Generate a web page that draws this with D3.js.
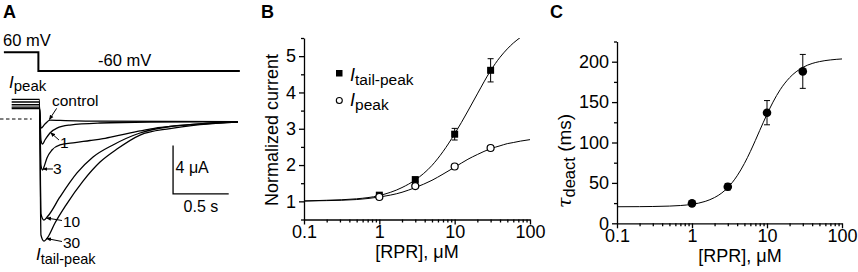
<!DOCTYPE html>
<html>
<head>
<meta charset="utf-8">
<script src="https://cdn.jsdelivr.net/npm/d3@7"></script>
<style>
  body { margin: 0; background: #fff; }
  svg { display: block; font-family: "Liberation Sans", Arial, sans-serif; }
  .axis path, .axis line { stroke: #000; stroke-width: 1.3; }
</style>
</head>
<body>
<svg id="fig" width="858" height="272"></svg>
<script>
// ---------- data ----------
// panel A: voltage protocol (s, mV)
const voltTime = [-0.32, -0.01, -0.01, 1.8]
const voltLevel = [60, 60, -60, -60]

// panel A: current traces, [time s, current uA]
const traceControl = [[-0.25, 0.87], [0, 0.87], [0.013, -0.75], [0.049, -0.42], [0.094, -0.1], [0.184, -0.12], [0.544, -0.18], [1.783, -0.21]]
const trace1 = [[-0.25, 0.99], [0, 0.99], [0.013, -1.74], [0.027, -2.07], [0.049, -1.74], [0.094, -1.16], [0.157, -0.75], [0.274, -0.5], [0.544, -0.33], [0.993, -0.25], [1.783, -0.22]]
const trace3 = [[-0.25, 1.18], [0, 1.18], [0.013, -3.81], [0.027, -4.23], [0.040, -3.98], [0.067, -3.23], [0.112, -2.57], [0.184, -2.15], [0.319, -1.95], [0.454, -1.78], [0.571, -1.62], [0.723, -1.33], [0.903, -0.99], [1.020, -0.79], [1.325, -0.50], [1.622, -0.29], [1.783, -0.25]]
const trace10 = [[-0.25, 1.41], [0, 1.41], [0.013, -7.87], [0.040, -8.37], [0.076, -8.04], [0.184, -6.46], [0.337, -4.47], [0.481, -3.15], [0.660, -2.15], [0.903, -1.16], [1.173, -0.62], [1.442, -0.41], [1.783, -0.25]]
const trace30 = [[-0.25, 1.63], [0, 1.63], [0.013, -9.61], [0.040, -10.11], [0.076, -9.78], [0.139, -8.62], [0.238, -7.13], [0.391, -5.14], [0.544, -3.56], [0.696, -2.49], [0.903, -1.33], [1.173, -0.79], [1.442, -0.46], [1.783, -0.25]]
const traces = [traceControl, trace1, trace3, trace10, trace30]

// panel B: normalized current vs [RPR]
const conc = [1, 3, 10, 30]
const tailPeak = [1.17, 1.6, 2.85, 4.61]
const tailPeakErr = [0.04, 0.05, 0.16, 0.32]
const peak = [1.12, 1.42, 1.96, 2.47]
const peakErr = [0.03, 0.03, 0.04, 0.06]
const fitConcB = [0.1, 0.2, 0.5, 1, 2, 3, 5, 7, 10, 15, 20, 30, 40, 50, 60, 75, 100]
const tailPeakFit = [1.01, 1.03, 1.07, 1.16, 1.38, 1.59, 1.99, 2.37, 2.86, 3.49, 3.96, 4.6, 4.97, 5.2, 5.36, 5.52, 5.72]
const peakFit = [1.01, 1.02, 1.05, 1.12, 1.25, 1.38, 1.58, 1.75, 1.94, 2.16, 2.29, 2.45, 2.53, 2.59, 2.62, 2.66, 2.70]

// panel C: deactivation time constant vs [RPR]
const tau = [24.7, 45.3, 136.9, 188]
const tauErr = [2, 4, 15, 21]
const fitConcC = [0.1, 0.2, 0.3, 0.5, 0.7, 1, 1.5, 2, 2.5, 3, 4, 5, 6, 7, 8, 10, 12, 15, 20, 30, 40, 50, 70, 100]
const tauFit = [20.5, 20.6, 20.8, 21.3, 22.0, 23.5, 27.1, 31.9, 37.6, 44.2, 58.8, 74.1, 88.9, 102.6, 114.9, 134.9, 149.9, 165.4, 180.2, 192.9, 197.8, 200.1, 202.2, 203.4]

// axis ticks
const xMajor = [0.1, 1, 10, 100]
const xMinor = [0.2, 0.3, 0.4, 0.5, 0.6, 0.7, 0.8, 0.9, 2, 3, 4, 5, 6, 7, 8, 9, 20, 30, 40, 50, 60, 70, 80, 90]
const yMajorB = [1, 2, 3, 4, 5]
const yMinorB = [0.5, 1.5, 2.5, 3.5, 4.5, 5.5]
const yMajorC = [0, 50, 100, 150, 200]
const yMinorC = [25, 75, 125, 175, 225]

const svg = d3.select("#fig")
svg.append("rect").attr("width", 858).attr("height", 272).attr("fill", "#fff")
const defs = svg.append("defs")

// panel letters
const letters = [["A", 3], ["B", 261], ["C", 550]]
svg.selectAll("text.letter").data(letters).enter()
  .append("text").attr("class", "letter")
  .attr("x", d => d[1]).attr("y", 18)
  .attr("font-size", 18).attr("font-weight", "bold")
  .text(d => d[0])

// ---------- panel A ----------
const xA = d3.scaleLinear().domain([0, 1]).range([39.5, 150.8])
const yA = d3.scaleLinear().domain([0, 4]).range([119, 70.72])
const yV = d3.scaleLinear().domain([-60, 60]).range([71, 52.3])

const gA = svg.append("g")

gA.append("path")
  .attr("d", d3.line().x(d => xA(d)).y((d, i) => yV(voltLevel[i]))(voltTime))
  .attr("fill", "none").attr("stroke", "#000").attr("stroke-width", 2)

gA.append("text").attr("x", 3).attr("y", 46).attr("font-size", 16.5).text("60 mV")
gA.append("text").attr("x", 98).attr("y", 66).attr("font-size", 16.5).text("-60 mV")

// zero-current dashed line
gA.append("path")
  .attr("d", d3.line().x(d => xA(d[0])).y(d => yA(d[1]))([[-0.355, 0], [-0.07, 0]]))
  .attr("stroke", "#000").attr("stroke-width", 1).attr("stroke-dasharray", "3.5,2.5")

const traceLine = d3.line().x(d => xA(d[0])).y(d => yA(d[1])).curve(d3.curveMonotoneX)
gA.selectAll("path.trace").data(traces).enter()
  .append("path").attr("class", "trace")
  .attr("d", traceLine)
  .attr("fill", "none").attr("stroke", "#000").attr("stroke-width", 1.3)

// arrow marker
defs.append("marker")
  .attr("id", "arr").attr("viewBox", "0 0 10 10").attr("refX", 9).attr("refY", 5)
  .attr("markerWidth", 5).attr("markerHeight", 5).attr("orient", "auto")
  .append("path").attr("d", "M0,1 L10,5 L0,9 Z").attr("fill", "#000")

// trace annotations: [label, text t, text I, arrow from t, I, arrow to t, I]
const notes = [
  ["control", 0.112, 1.08, 0.154, 0.88, 0.088, -0.05],
  ["1", 0.184, -2.40, 0.175, -1.74, 0.099, -1.12],
  ["3", 0.121, -4.58, 0.121, -4.14, 0.031, -4.14],
  ["10", 0.211, -8.92, 0.202, -8.41, 0.063, -8.2],
  ["30", 0.211, -10.66, 0.202, -10.15, 0.063, -9.9]
]
gA.selectAll("line.note").data(notes).enter()
  .append("line").attr("class", "note")
  .attr("x1", d => xA(d[3])).attr("y1", d => yA(d[4]))
  .attr("x2", d => xA(d[5])).attr("y2", d => yA(d[6]))
  .attr("stroke", "#000").attr("stroke-width", 1).attr("marker-end", "url(#arr)")
gA.selectAll("text.note").data(notes).enter()
  .append("text").attr("class", "note")
  .attr("x", d => xA(d[1])).attr("y", d => yA(d[2]))
  .attr("font-size", 15.5).text(d => d[0])

// I_peak and I_tail-peak labels
const ip = gA.append("text").attr("x", 9).attr("y", 88).attr("font-size", 17)
ip.append("tspan").attr("font-style", "italic").text("I")
ip.append("tspan").attr("dy", 3).attr("font-size", 15).text("peak")
const itp = gA.append("text").attr("x", 36).attr("y", 260).attr("font-size", 17)
itp.append("tspan").attr("font-style", "italic").text("I")
itp.append("tspan").attr("dy", 4).attr("font-size", 14.5).text("tail-peak")

// scale bars: 4 uA, 0.5 s
gA.append("path")
  .attr("d", d3.line().x(d => xA(d[0])).y(d => yA(d[1]))([[1.2, -2.2], [1.2, -6.2], [1.7, -6.2]]))
  .attr("fill", "none").attr("stroke", "#000").attr("stroke-width", 1.3)
gA.append("text").attr("x", xA(1.2) + 2.5).attr("y", 173).attr("font-size", 16).text("4 μA")
gA.append("text").attr("x", xA(1.45)).attr("y", 212).attr("text-anchor", "middle").attr("font-size", 16).text("0.5 s")

// ---------- shared axis helpers ----------
function xAxis(g, x, y0) {
  g.append("g").attr("class", "axis").attr("transform", `translate(0,${y0})`)
    .call(d3.axisBottom(x).tickValues(xMajor).tickFormat(d => d).tickSize(5).tickPadding(1).tickSizeOuter(0))
    .attr("font-size", 18).attr("font-family", null)
  g.append("g").attr("class", "axis").attr("transform", `translate(0,${y0})`)
    .call(d3.axisBottom(x).tickValues(xMinor).tickFormat("").tickSize(3))
    .call(a => a.select(".domain").remove())
}
function yAxis(g, y, x0, major, minor) {
  g.append("g").attr("class", "axis").attr("transform", `translate(${x0},0)`)
    .call(d3.axisLeft(y).tickValues(major).tickFormat(d3.format("d")).tickSize(5).tickPadding(3).tickSizeOuter(0))
    .attr("font-size", 18).attr("font-family", null)
  g.append("g").attr("class", "axis").attr("transform", `translate(${x0},0)`)
    .call(d3.axisLeft(y).tickValues(minor).tickFormat("").tickSize(3))
    .call(a => a.select(".domain").remove())
}
function errorBars(g, x, y, xs, vs, es) {
  const d = xs.map((c, i) => [c, vs[i], es[i]])
  g.selectAll(null).data(d).enter().append("path")
    .attr("d", p => `M${x(p[0])},${y(p[1] - p[2])}V${y(p[1] + p[2])}` +
      `M${x(p[0]) - 3},${y(p[1] - p[2])}h6M${x(p[0]) - 3},${y(p[1] + p[2])}h6`)
    .attr("stroke", "#000").attr("stroke-width", 1).attr("fill", "none")
}

// ---------- panel B ----------
const xB = d3.scaleLog().domain([0.1, 100]).range([304, 530])
const yB = d3.scaleLinear().domain([0.5, 5.5]).range([219.5, 38])
const gB = svg.append("g")

defs.append("clipPath").attr("id", "clipB")
  .append("rect").attr("x", xB(0.1)).attr("y", yB(5.5)).attr("width", xB(100) - xB(0.1)).attr("height", yB(0.5) - yB(5.5))

const fitLineB = d3.line().x((d, i) => xB(fitConcB[i])).y(d => yB(d)).curve(d3.curveMonotoneX)
gB.selectAll("path.fit").data([tailPeakFit, peakFit]).enter()
  .append("path").attr("class", "fit")
  .attr("d", fitLineB).attr("clip-path", "url(#clipB)")
  .attr("fill", "none").attr("stroke", "#000").attr("stroke-width", 1)

errorBars(gB, xB, yB, conc, tailPeak, tailPeakErr)
errorBars(gB, xB, yB, conc, peak, peakErr)

gB.selectAll("rect.tp").data(conc).enter()
  .append("rect").attr("class", "tp")
  .attr("x", d => xB(d) - 3.5).attr("y", (d, i) => yB(tailPeak[i]) - 3.5)
  .attr("width", 7).attr("height", 7).attr("fill", "#000")
gB.selectAll("circle.pk").data(conc).enter()
  .append("circle").attr("class", "pk")
  .attr("cx", d => xB(d)).attr("cy", (d, i) => yB(peak[i])).attr("r", 3.5)
  .attr("fill", "#fff").attr("stroke", "#000").attr("stroke-width", 1.2)

xAxis(gB, xB, 219.5)
yAxis(gB, yB, 304, yMajorB, yMinorB)

gB.append("text").attr("transform", "translate(278,130) rotate(-90)")
  .attr("text-anchor", "middle").attr("font-size", 18).text("Normalized current")
gB.append("text").attr("x", 417).attr("y", 258)
  .attr("text-anchor", "middle").attr("font-size", 18).text("[RPR], μM")

// legend
gB.append("rect").attr("x", 336).attr("y", 70).attr("width", 6.5).attr("height", 6.5).attr("fill", "#000")
gB.append("circle").attr("cx", 339.3).attr("cy", 100.5).attr("r", 3).attr("fill", "#fff").attr("stroke", "#000").attr("stroke-width", 1.1)
const l1 = gB.append("text").attr("x", 350).attr("y", 81).attr("font-size", 18)
l1.append("tspan").attr("font-style", "italic").text("I")
l1.append("tspan").attr("dy", 3.5).attr("font-size", 15.5).text("tail-peak")
const l2 = gB.append("text").attr("x", 350).attr("y", 106).attr("font-size", 18)
l2.append("tspan").attr("font-style", "italic").text("I")
l2.append("tspan").attr("dy", 3.5).attr("font-size", 15.5).text("peak")

// ---------- panel C ----------
const xC = d3.scaleLog().domain([0.1, 100]).range([617, 842])
const yC = d3.scaleLinear().domain([0, 225]).range([223.3, 41.5])
const gC = svg.append("g")

gC.append("path")
  .attr("d", d3.line().x((d, i) => xC(fitConcC[i])).y(d => yC(d)).curve(d3.curveMonotoneX)(tauFit))
  .attr("fill", "none").attr("stroke", "#000").attr("stroke-width", 1)

errorBars(gC, xC, yC, conc, tau, tauErr)
gC.selectAll("circle.tau").data(conc).enter()
  .append("circle").attr("class", "tau")
  .attr("cx", d => xC(d)).attr("cy", (d, i) => yC(tau[i])).attr("r", 4.3).attr("fill", "#000")

xAxis(gC, xC, 223.3)
yAxis(gC, yC, 617, yMajorC, yMinorC)

const tl = gC.append("text").attr("transform", "translate(571,208) rotate(-90)").attr("font-size", 19)
tl.append("tspan").attr("font-style", "italic").attr("font-family", "'DejaVu Serif', serif").text("τ")
tl.append("tspan").attr("dy", 3.5).attr("font-size", 16.5).text("deact")
tl.append("tspan").attr("dy", -3.5).text(" (ms)")
gC.append("text").attr("x", 740).attr("y", 261.5)
  .attr("text-anchor", "middle").attr("font-size", 18).text("[RPR], μM")
</script>
</body>
</html>
